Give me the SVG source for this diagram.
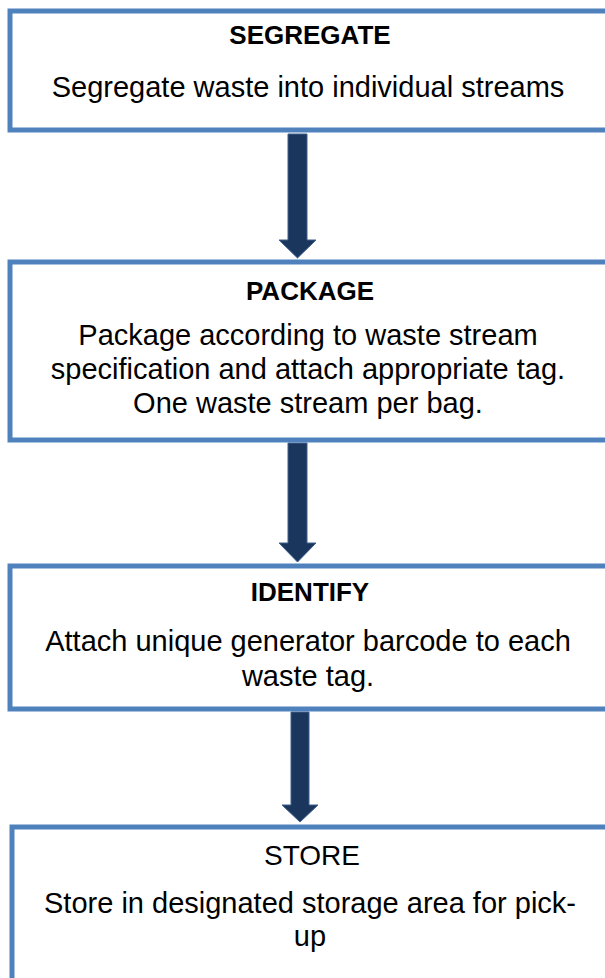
<svg xmlns="http://www.w3.org/2000/svg" width="605" height="978" viewBox="0 0 605 978">
  <defs>
    <style>
      .box { fill: #ffffff; stroke: #4F81BD; stroke-width: 5; }
      .arrow { fill: #1B365D; stroke: #3F5F8C; stroke-width: 1; }
      text { font-family: "Liberation Sans", Arial, sans-serif; fill: #000000; text-anchor: middle; }
      .title { font-size: 26px; font-weight: bold; }
      .plain-title { font-size: 28px; }
      .body { font-size: 29px; }
    </style>
  </defs>
  <rect width="605" height="978" fill="#ffffff"/>

  <!-- block arrows between the steps -->
  <g id="connectors">
    <path class="arrow" d="M288 134 H307 V240 H316 L297.5 258 L279 240 H288 Z"/>
    <path class="arrow" d="M288 443 H307 V543 H316 L297.5 562 L279 543 H288 Z"/>
    <path class="arrow" d="M291 712 H309 V805 H318 L300 822 L282 805 H291 Z"/>
  </g>

  <g id="segregate">
    <rect class="box" x="10" y="11" width="620" height="119"/>
    <text class="title" x="310" y="44">SEGREGATE</text>
    <text class="body" x="308" y="97">Segregate waste into individual streams</text>
  </g>

  <g id="package">
    <rect class="box" x="10" y="262" width="620" height="178"/>
    <text class="title" x="310" y="300">PACKAGE</text>
    <text class="body" x="308" y="345">Package according to waste stream</text>
    <text class="body" x="308" y="379">specification and attach appropriate tag.</text>
    <text class="body" x="308" y="413">One waste stream per bag.</text>
  </g>

  <g id="identify">
    <rect class="box" x="10" y="566" width="620" height="143"/>
    <text class="title" x="310" y="601">IDENTIFY</text>
    <text class="body" x="308" y="651">Attach unique generator barcode to each</text>
    <text class="body" x="308" y="686">waste tag.</text>
  </g>

  <g id="store">
    <rect class="box" x="12" y="827" width="620" height="170"/>
    <text class="plain-title" x="312" y="865">STORE</text>
    <text class="body" x="310" y="913">Store in designated storage area for pick-</text>
    <text class="body" x="310" y="946">up</text>
  </g>
</svg>
